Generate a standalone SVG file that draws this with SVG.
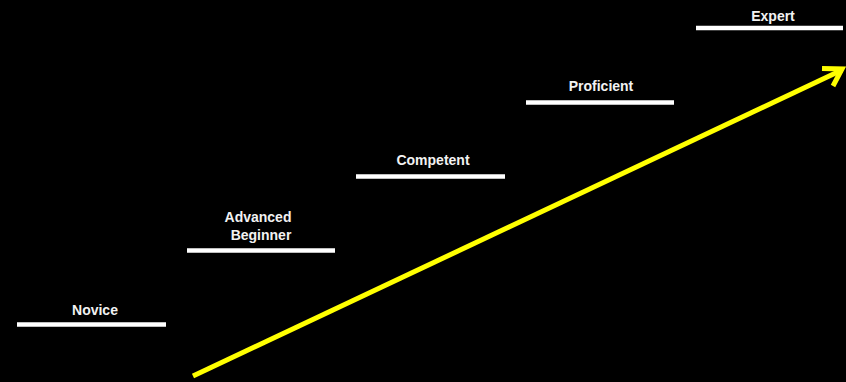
<svg xmlns="http://www.w3.org/2000/svg" width="846" height="382" viewBox="0 0 846 382">
<style>
.lbl{font-family:"Liberation Sans",Arial,sans-serif;font-weight:bold;font-size:14px;fill:#f2f2f2;text-anchor:middle}
.step{stroke:#ffffff;stroke-width:4.5;fill:none}
.arrow{stroke:#ffff00;stroke-width:5;fill:none;stroke-linecap:butt;stroke-linejoin:miter}
</style>
<rect width="846" height="382" fill="#000"/>
<g id="novice"><line class="step" x1="17" y1="324.5" x2="166" y2="324.5"/><text class="lbl" x="95" y="315">Novice</text></g>
<g id="advanced-beginner"><line class="step" x1="187" y1="250.5" x2="335" y2="250.5"/><text class="lbl" x="258" y="222">Advanced</text><text class="lbl" x="261" y="240">Beginner</text></g>
<g id="competent"><line class="step" x1="356" y1="176.5" x2="505" y2="176.5"/><text class="lbl" x="433" y="165">Competent</text></g>
<g id="proficient"><line class="step" x1="526" y1="102.5" x2="674" y2="102.5"/><text class="lbl" x="601" y="91">Proficient</text></g>
<g id="expert"><line class="step" x1="696" y1="28" x2="843" y2="28"/><text class="lbl" x="773" y="21">Expert</text></g>
<g id="connectors">
<line class="arrow" x1="193" y1="376" x2="842" y2="70"/>
<polyline class="arrow" points="822,68.5 842,69 833,86"/>
</g>
</svg>
